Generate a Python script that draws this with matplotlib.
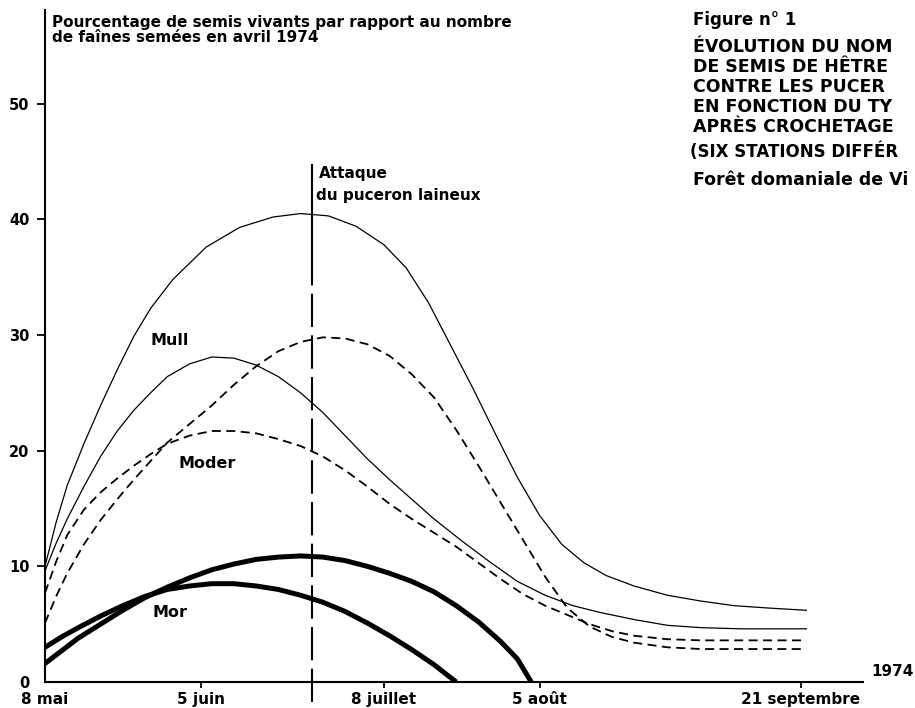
import matplotlib
matplotlib.use("Agg")
import matplotlib.pyplot as plt

plt.rcParams["font.family"] = ["DejaVu Sans"]
plt.rcParams["font.weight"] = "bold"

# days counted from 8 May 1974
tick_days = [0, 28, 61, 89, 136]
tick_labels = ["8 mai", "5 juin", "8 juillet", "5 août", "21 septembre"]
attack_day = 48

# Mull (thin solid)
mull_a_days = [0, 2, 4, 7, 10, 13, 16, 19, 23, 29, 35, 41, 46, 51, 56, 61, 65, 69, 73, 77,
               81, 85, 89, 93, 97, 101, 106, 112, 118, 124, 130, 137]
mull_a_vals = [10, 13.8, 17, 20.6, 23.9, 27, 29.9, 32.3, 34.8, 37.6, 39.3, 40.2, 40.5, 40.3, 39.4,
               37.8, 35.8, 32.8, 29.1, 25.4, 21.5, 17.7, 14.4, 11.9, 10.3, 9.2, 8.3, 7.5, 7.0,
               6.6, 6.4, 6.2]
mull_b_days = [0, 2, 4, 7, 10, 13, 16, 19, 22, 26, 30, 34, 38, 42, 46, 50, 54, 58, 62, 66,
               70, 75, 80, 85, 90, 95, 100, 106, 112, 118, 125, 131, 137]
mull_b_vals = [9.6, 12.0, 14.1, 16.9, 19.5, 21.7, 23.5, 25.0, 26.4, 27.5, 28.1, 28.0, 27.4, 26.4,
               25.0, 23.3, 21.3, 19.3, 17.5, 15.8, 14.1, 12.2, 10.4, 8.7, 7.5, 6.6, 6.0, 5.4, 4.9,
               4.7, 4.6, 4.6, 4.6]

# Moder (dashed)
moder_a_days = [0, 2, 4, 7, 10, 13, 16, 19, 22, 26, 30, 34, 38, 42, 46, 50, 54, 58, 62, 66,
                70, 74, 78, 82, 86, 90, 94, 98, 102, 106, 112, 118, 125, 131, 137]
moder_a_vals = [5.1, 7.4, 9.4, 11.9, 14.0, 15.8, 17.5, 19.1, 20.7, 22.3, 23.9, 25.7, 27.3, 28.6,
                29.4, 29.8, 29.7, 29.2, 28.2, 26.6, 24.6, 21.8, 18.7, 15.5, 12.3, 9.1, 6.4, 4.8,
                3.9, 3.4, 3.0, 2.85, 2.85, 2.85, 2.85]
moder_b_days = [0, 2, 4, 7, 10, 13, 16, 19, 22, 26, 30, 34, 38, 42, 46, 50, 54, 58, 62, 66,
                70, 74, 78, 82, 86, 90, 94, 98, 102, 106, 112, 118, 125, 131, 137]
moder_b_vals = [7.7, 10.4, 12.7, 14.9, 16.4, 17.6, 18.7, 19.7, 20.6, 21.3, 21.7, 21.7, 21.5, 21.0,
                20.4, 19.5, 18.3, 16.9, 15.4, 14.1, 12.9, 11.7, 10.3, 8.9, 7.6, 6.6, 5.8, 5.0,
                4.4, 4.0, 3.7, 3.6, 3.6, 3.6, 3.6]

# Mor (thick solid)
mor_a_days = [0, 3, 6, 10, 14, 18, 22, 26, 30, 34, 38, 42, 46, 50, 54, 58, 62, 66, 70, 74,
              78, 82, 85, 87.5]
mor_a_vals = [1.6, 2.7, 3.8, 5.0, 6.2, 7.3, 8.2, 9.0, 9.7, 10.2, 10.6, 10.8, 10.9, 10.8, 10.5,
              10.0, 9.4, 8.7, 7.8, 6.6, 5.2, 3.5, 2.0, 0]
mor_b_days = [0, 3, 6, 10, 14, 18, 22, 26, 30, 34, 38, 42, 46, 50, 54, 58, 62, 66, 70, 74]
mor_b_vals = [3.0, 3.9, 4.7, 5.7, 6.6, 7.4, 8.0, 8.3, 8.5, 8.5, 8.3, 8.0, 7.5, 6.9, 6.1, 5.1,
              4.0, 2.8, 1.5, 0]

# title block, as far as it is visible in the original
title_lines = ["ÉVOLUTION DU NOM", "DE SEMIS DE HÊTRE", "CONTRE LES PUCER",
               "EN FONCTION DU TY", "APRÈS CROCHETAGE"]

W, H = 915, 708
fig = plt.figure(figsize=(W / 100, H / 100), dpi=100)
ax = fig.add_axes([45 / W, 26 / H, 818 / W, 672 / H])
ax.set_xlim(0, 147.2)
ax.set_ylim(0, 58.1)

dash = (0, (5, 3))
ax.plot(mull_a_days, mull_a_vals, color="black", lw=0.9)
ax.plot(mull_b_days, mull_b_vals, color="black", lw=0.9)
ax.plot(moder_a_days, moder_a_vals, color="black", lw=1.3, linestyle=dash)
ax.plot(moder_b_days, moder_b_vals, color="black", lw=1.3, linestyle=dash)
ax.plot(mor_a_days, mor_a_vals, color="black", lw=3.6, solid_capstyle="butt")
ax.plot(mor_b_days, mor_b_vals, color="black", lw=3.6, solid_capstyle="butt")

# attack of the woolly aphid
ax.plot([attack_day, attack_day], [37.2, 44.7], color="black", lw=1.5, clip_on=False)
ax.plot([attack_day, attack_day], [-1.7, 37.2], color="black", lw=1.5,
        linestyle=(0, (16, 4)), clip_on=False)
ax.text(attack_day + 1.3, 44.0, "Attaque", fontsize=11, va="center", ha="left")
ax.text(attack_day + 0.8, 42.1, "du puceron laineux", fontsize=11, va="center", ha="left")

ax.text(22.5, 29.5, "Mull", fontsize=11.5, ha="center", va="center")
ax.text(29.2, 18.9, "Moder", fontsize=11.5, ha="center", va="center")
ax.text(22.5, 5.97, "Mor", fontsize=11.5, ha="center", va="center")

for s in ["top", "right"]:
    ax.spines[s].set_visible(False)
for s in ["left", "bottom"]:
    ax.spines[s].set_linewidth(1.5)

ax.set_yticks([0, 10, 20, 30, 40, 50])
ax.set_yticklabels(["0", "10", "20", "30", "40", "50"])
ax.set_xticks(tick_days)
ax.set_xticklabels(tick_labels)
ax.tick_params(axis="y", direction="out", length=6, width=1.3, pad=5, labelsize=10.5)
ax.tick_params(axis="x", direction="out", length=4.5, width=1.3, pad=2.5, labelsize=11)
ax.yaxis.get_major_ticks()[0].tick1line.set_visible(False)
ax.xaxis.get_major_ticks()[0].tick1line.set_visible(False)

ax.text(148.7, 0.3, "1974", fontsize=11, ha="left", va="bottom", clip_on=False)

ax.text(1.3, 57.7, "Pourcentage de semis vivants par rapport au nombre\n"
        "de faînes semées en avril 1974", fontsize=11, ha="left", va="top",
        linespacing=1.0)

fig.text(693 / W, 1 - 20 / H, "Figure n° 1", fontsize=12, ha="left", va="center")
for i, line in enumerate(title_lines):
    fig.text(693 / W, 1 - (47 + 20 * i) / H, line, fontsize=12.5, ha="left", va="center")
fig.text(690 / W, 1 - 152 / H, "(SIX STATIONS DIFFÉR", fontsize=12, ha="left", va="center")
fig.text(693 / W, 1 - 180 / H, "Forêt domaniale de Vi", fontsize=12.5, ha="left", va="center")

fig.savefig("out.png", dpi=100)
